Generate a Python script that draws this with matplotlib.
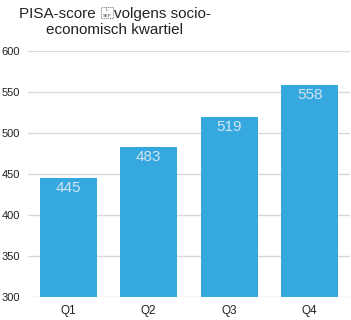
import matplotlib.pyplot as plt
from matplotlib.patches import Rectangle

plt.rcParams['font.family'] = ['Liberation Sans', 'DejaVu Sans']

# data
kwartielen = ['Q1', 'Q2', 'Q3', 'Q4']
scores = [445, 483, 519, 558]
titel_1a = 'PISA-score '
titel_1b = 'volgens socio-'
titel_2 = 'economisch kwartiel'

bar_color = '#35A8E0'
W, H = 351, 320

fig = plt.figure(figsize=(3.51, 3.2), dpi=100)
ax = fig.add_axes([0.0798, 0.073, 0.9172, 0.7686])

x = range(len(kwartielen))
ax.bar(x, scores, width=0.71, color=bar_color, zorder=3)

for xi, s in zip(x, scores):
    ax.text(xi, s - 4, str(s), ha='center', va='top', color='#D3E4EE', fontsize=11, zorder=4)

ax.set_xlim(-0.5, 3.5)
ax.set_ylim(300, 600)
ax.set_yticks(range(300, 601, 50))
ax.set_xticks(list(x))
ax.set_xticklabels(kwartielen)
ax.grid(axis='y', color='#D9D9D9', linewidth=1, zorder=0)
for sp in ax.spines.values():
    sp.set_visible(False)
ax.tick_params(axis='both', length=0, labelsize=8, colors='#222222')
ax.tick_params(axis='x', labelsize=8.5, pad=6)
ax.tick_params(axis='y', pad=6)

# titel: eerste regel met het "L SEP" tekentje ertussen
r = fig.canvas.get_renderer()
cx = 115
base1 = H - 18
box_w, gap = 12, 1
t_a = fig.text(0, base1 / H, titel_1a, fontsize=11, color='#222222', va='baseline')
t_b = fig.text(0, base1 / H, titel_1b, fontsize=11, color='#222222', va='baseline')
wa = t_a.get_window_extent(r).width
wb = t_b.get_window_extent(r).width
x0 = cx - (wa + box_w + 2 * gap + wb) / 2
t_a.set_x(x0 / W)
bx = x0 + wa + gap
t_b.set_x((bx + box_w + gap) / W)
fig.patches.append(Rectangle((bx / W, base1 / H), box_w / W, 11 / H, transform=fig.transFigure,
                             fill=False, edgecolor='#777777', linewidth=0.6, linestyle=(0, (1.5, 1))))
fig.text((bx + box_w / 2) / W, (base1 + 10) / H, 'L', fontsize=3.2, ha='center', va='top', color='#444444')
fig.text((bx + box_w / 2) / W, (base1 + 1) / H, 'SEP', fontsize=3.2, ha='center', va='baseline', color='#444444')

fig.text(cx / W, (base1 - 15.5) / H, titel_2, ha='center', va='baseline', fontsize=11, color='#222222')

fig.savefig('out.png', dpi=100)
